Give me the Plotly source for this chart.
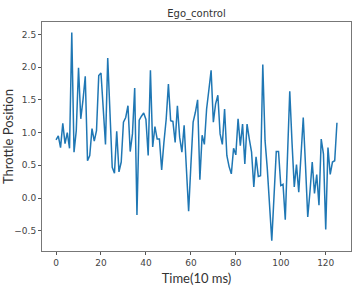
import plotly.graph_objects as go

time_steps = list(range(126))
throttle = [
    0.89, 0.95, 0.77, 1.14, 0.83, 1.00, 0.76, 2.53, 0.70, 1.03,
    1.99, 1.21, 1.50, 1.86, 0.57, 0.65, 1.06, 0.87, 1.03, 1.87,
    1.91, 1.40, 0.82, 2.14, 1.18, 0.47, 0.38, 1.02, 0.40, 0.55,
    1.16, 1.23, 1.41, 0.71, 0.98, 1.68, -0.26, 1.19, 1.25, 1.30,
    1.20, 0.65, 1.95, 0.78, 1.09, 0.90, 0.90, 0.43, 0.85, 1.20,
    1.74, 1.18, 1.17, 0.85, 1.41, 0.93, 0.70, 1.11, 0.45, -0.20,
    0.50, 1.16, 1.31, 1.50, 0.28, 0.96, 0.82, 1.36, 1.65, 1.95,
    1.16, 1.44, 1.57, 0.98, 0.82, 1.36, 0.65, 0.48, 0.37, 0.76,
    0.66, 1.21, 0.80, 1.13, 0.52, 1.13, 0.90, 0.70, 0.17, 0.63,
    0.33, 0.34, 2.04, 0.88, 0.45, -0.05, -0.65, 0.03, 0.71, 0.71,
    0.19, 0.21, -0.33, 0.65, 1.63, 0.85, 0.17, 0.51, 0.09, 0.65,
    1.23, 0.50, -0.29, 0.10, 0.55, 0.07, 0.36, -0.11, 0.90, 0.67,
    -0.48, 0.77, 0.36, 0.55, 0.57, 1.15,
]
x_ticks = [0, 20, 40, 60, 80, 100, 120]
y_ticks = [-0.5, 0.0, 0.5, 1.0, 1.5, 2.0, 2.5]
y_tick_text = ["\u22120.5", "0.0", "0.5", "1.0", "1.5", "2.0", "2.5"]

xspan = max(time_steps) - min(time_steps)
ymin, ymax = min(throttle), max(throttle)
yspan = ymax - ymin

fig = go.Figure()
fig.add_trace(go.Scatter(x=time_steps, y=throttle, mode="lines",
                         line=dict(color="#1f77b4", width=1.5)))

tick_font = dict(family="DejaVu Sans", size=9, color="#444444")
fig.update_layout(
    width=359, height=287,
    margin=dict(l=42, r=8, t=22, b=36, autoexpand=False),
    paper_bgcolor="white", plot_bgcolor="white",
    showlegend=False,
    title=dict(text="Ego_control", x=0.5, xref="paper", xanchor="center",
               y=1 - 13 / 287, yanchor="middle",
               font=dict(family="DejaVu Sans", size=10, color="#333333")),
    xaxis=dict(range=[min(time_steps) - 0.05 * xspan, max(time_steps) + 0.05 * xspan],
               tickvals=x_ticks, ticks="outside", ticklen=3, tickcolor="#555555",
               showgrid=False, zeroline=False, showline=True, linecolor="#777777",
               linewidth=1, mirror=True, tickfont=tick_font, automargin=False,
               title=dict(text="Time(10 ms)", standoff=7,
                          font=dict(family="Lato", size=13, color="#333333"))),
    yaxis=dict(range=[ymin - 0.05 * yspan, ymax + 0.05 * yspan],
               tickvals=y_ticks, ticktext=y_tick_text, ticks="outside", ticklen=3,
               tickcolor="#555555", showgrid=False, zeroline=False, showline=True,
               linecolor="#777777", linewidth=1, mirror=True, tickfont=tick_font,
               automargin=False,
               title=dict(text="Throttle Position", standoff=6,
                          font=dict(family="Lato", size=13, color="#333333"))),
)

fig.write_html("out.html", config={"displayModeBar": False},
               post_script="document.body.style.margin='0';")
